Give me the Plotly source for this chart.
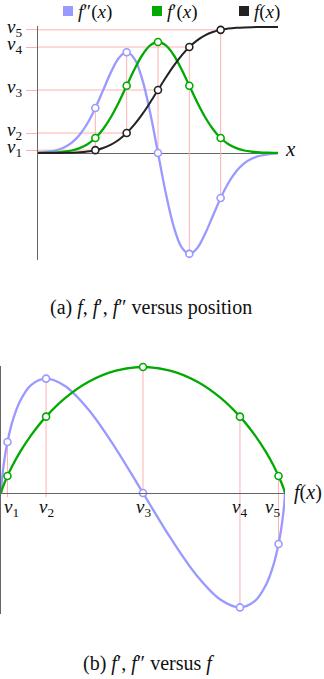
import plotly.graph_objects as go

# ---------------- data ----------------
# sample positions (in units of the marked spacing)
t_vals = [-4.0, -3.75, -3.5, -3.25, -3.0, -2.75, -2.5, -2.25, -2.0, -1.75, -1.5, -1.25, -1.0,
          -0.75, -0.5, -0.25, 0.0, 0.25, 0.5, 0.75, 1.0, 1.25, 1.5, 1.75, 2.0,
          2.25, 2.5, 2.75, 3.0, 3.25, 3.5, 3.75, 4.0]
f_vals = [0.00003, 0.00009, 0.00023, 0.00058, 0.00135, 0.00298, 0.00621, 0.01222, 0.02275,
          0.04006, 0.06681, 0.10565, 0.15866, 0.22663, 0.30854, 0.40129, 0.5,
          0.59871, 0.69146, 0.77337, 0.84134, 0.89435, 0.93319, 0.95994, 0.97725,
          0.98778, 0.99379, 0.99702, 0.99865, 0.99942, 0.99977, 0.99991, 0.99997]
f1_vals = [0.000, 0.001, 0.002, 0.004, 0.010, 0.020, 0.039, 0.070, 0.119, 0.191, 0.286, 0.403,
           0.534, 0.665, 0.778, 0.854, 0.881, 0.854, 0.778, 0.665, 0.534, 0.403, 0.286,
           0.191, 0.119, 0.070, 0.039, 0.020, 0.010, 0.004, 0.002, 0.001, 0.000]
f2_vals = [0.0018, 0.0044, 0.0101, 0.0218, 0.044, 0.0827, 0.145, 0.2361, 0.357, 0.4992, 0.642,
           0.7549, 0.800, 0.7467, 0.582, 0.3196, 0.0, -0.3196, -0.582, -0.7467, -0.800,
           -0.7549, -0.642, -0.4992, -0.357, -0.2361, -0.145, -0.0827, -0.044, -0.0218,
           -0.0101, -0.0044, -0.0018]
mark_idx = [8, 12, 16, 20, 24]          # samples carrying the circle markers
mark_labels = ["<i>v</i><sub>1</sub>", "<i>v</i><sub>2</sub>", "<i>v</i><sub>3</sub>",
               "<i>v</i><sub>4</sub>", "<i>v</i><sub>5</sub>"]
legend_names = ["<i>f</i>″(<i>x</i>)", "<i>f</i>′(<i>x</i>)", "<i>f</i>(<i>x</i>)"]

# ---------------- styles ----------------
W, H = 324, 679
C_F2 = "#9999ff"
C_F1 = "#00aa00"
C_F = "#222222"
C_PINK = "#ffb0b0"
C_AX = "#666666"
FONT = "Liberation Serif"
LEGEND_SWATCH_X = [63, 152, 239]   # px, left edge of each legend swatch
LEGEND_Y = 11                       # px, centre line of the legend
BOTTOM_LABEL_XSHIFT = [4, 0, 0, 0, -6]

def px_x(p):
    return p / W

def px_y(p):
    return 1 - p / H

X_RANGE_TOP = [-3.83, 3.83]

mt = [t_vals[i] for i in mark_idx]
mf = [f_vals[i] for i in mark_idx]
mf1 = [f1_vals[i] for i in mark_idx]
mf2 = [f2_vals[i] for i in mark_idx]

fig = go.Figure()

# ---------- top: guide lines ----------
gx, gy = [], []
for t, a, b, c in zip(mt, mf, mf1, mf2):
    gx += [X_RANGE_TOP[0], t, None, t, t, None]
    gy += [a, a, None, min(a, b, c), max(a, b, c), None]
fig.add_trace(go.Scatter(x=gx, y=gy, mode="lines", line=dict(color=C_PINK, width=1),
                         showlegend=False, hoverinfo="skip", xaxis="x", yaxis="y"))

# ---------- top: curves ----------
for vals, col, w in [(f2_vals, C_F2, 2.3), (f1_vals, C_F1, 2.3), (f_vals, C_F, 2.0)]:
    fig.add_trace(go.Scatter(x=t_vals, y=vals, mode="lines", line=dict(color=col, width=w, shape="spline"),
                             showlegend=False, xaxis="x", yaxis="y"))
for vals, col in [(mf2, C_F2), (mf1, C_F1), (mf, C_F)]:
    fig.add_trace(go.Scatter(x=mt, y=vals, mode="markers", cliponaxis=False,
                             marker=dict(symbol="circle", size=7, color="white",
                                         line=dict(color=col, width=1.6)),
                             showlegend=False, xaxis="x", yaxis="y"))

# ---------- bottom: guide lines (continue slightly below the axis) ----------
bx, by = [], []
for a, b, c in zip(mf, mf1, mf2):
    bx += [a, a, None]
    by += [min(-0.03, b, c), max(0, b, c), None]
fig.add_trace(go.Scatter(x=bx, y=by, mode="lines", line=dict(color=C_PINK, width=1),
                         showlegend=False, hoverinfo="skip", xaxis="x2", yaxis="y2"))

# ---------- bottom: curves ----------
for vals, col in [(f2_vals, C_F2), (f1_vals, C_F1)]:
    fig.add_trace(go.Scatter(x=f_vals, y=vals, mode="lines", line=dict(color=col, width=2.3, shape="spline"),
                             showlegend=False, xaxis="x2", yaxis="y2"))
for vals, col in [(mf2, C_F2), (mf1, C_F1)]:
    fig.add_trace(go.Scatter(x=mf, y=vals, mode="markers", cliponaxis=False,
                             marker=dict(symbol="circle", size=7, color="white",
                                         line=dict(color=col, width=1.6)),
                             showlegend=False, xaxis="x2", yaxis="y2"))

# ---------- legend (swatch + label) ----------
shapes = []
annotations = []
for name, col, sx in zip(legend_names, [C_F2, C_F1, C_F], LEGEND_SWATCH_X):
    shapes.append(dict(type="rect", xref="paper", yref="paper",
                       x0=px_x(sx), x1=px_x(sx + 10), y0=px_y(LEGEND_Y + 5), y1=px_y(LEGEND_Y - 5),
                       fillcolor=col, line=dict(width=0)))
    annotations.append(dict(text=name, xref="paper", yref="paper", x=px_x(sx + 13), y=px_y(LEGEND_Y + 1),
                            xanchor="left", yanchor="middle", showarrow=False,
                            font=dict(family=FONT, size=19, color="#111")))

tickfont = dict(family=FONT, size=19, color="#111")

# bottom axis labels v1..v5 just under the f-axis
for xv, lab, xs in zip(mf, mark_labels, BOTTOM_LABEL_XSHIFT):
    annotations.append(dict(text=lab, xref="x2", yref="y2", x=xv, y=0, xanchor="center", yanchor="top",
                            yshift=-1, xshift=xs, showarrow=False, font=tickfont))

annotations += [
    dict(text="<i>x</i>", xref="paper", yref="paper", x=px_x(283), y=px_y(149),
         xanchor="left", yanchor="middle", showarrow=False, font=dict(family=FONT, size=21, color="#111")),
    dict(text="<i>f</i>(<i>x</i>)", xref="paper", yref="paper", x=px_x(292), y=px_y(492),
         xanchor="left", yanchor="middle", showarrow=False, font=dict(family=FONT, size=20, color="#111")),
    dict(text="(a) <i>f</i>, <i>f</i>′, <i>f</i>″ versus position", xref="paper", yref="paper",
         x=px_x(151), y=px_y(308), xanchor="center", yanchor="middle", showarrow=False,
         font=dict(family=FONT, size=20, color="#111")),
    dict(text="(b) <i>f</i>′, <i>f</i>″ versus <i>f</i>", xref="paper", yref="paper",
         x=px_x(148), y=px_y(663), xanchor="center", yanchor="middle", showarrow=False,
         font=dict(family=FONT, size=20, color="#111")),
]

fig.update_layout(
    width=W, height=H, margin=dict(l=0, r=0, t=0, b=0, autoexpand=False),
    paper_bgcolor="white", plot_bgcolor="white",
    showlegend=False,
    xaxis=dict(domain=[px_x(38), px_x(278)], range=X_RANGE_TOP, anchor="y", automargin=False,
               showline=False, showticklabels=False, showgrid=False, zeroline=False, ticks=""),
    yaxis=dict(domain=[px_y(260), px_y(26)], range=[-0.849, 1.008], anchor="x", automargin=False,
               showline=True, linecolor=C_AX, linewidth=1,
               ticks="outside", ticklen=11, tickcolor=C_PINK, tickwidth=1,
               tickvals=mf, ticktext=mark_labels, tickfont=tickfont, ticklabelstandoff=0,
               ticklabelshift=-4, ticklabeloverflow="allow",
               showgrid=False, zeroline=True, zerolinecolor=C_AX, zerolinewidth=1),
    xaxis2=dict(domain=[px_x(1), px_x(285)], range=[0, 1.0], anchor="free", position=px_y(493),
                automargin=False, showline=True, linecolor=C_AX, linewidth=1,
                showticklabels=False, ticks="", showgrid=False, zeroline=False),
    yaxis2=dict(domain=[px_y(614), px_y(366)], range=[-0.846, 0.888], anchor="x2", automargin=False,
                showline=True, linecolor=C_AX, linewidth=1,
                showticklabels=False, ticks="", showgrid=False, zeroline=False),
    shapes=shapes,
    annotations=annotations,
)

fig.write_html("out.html")
